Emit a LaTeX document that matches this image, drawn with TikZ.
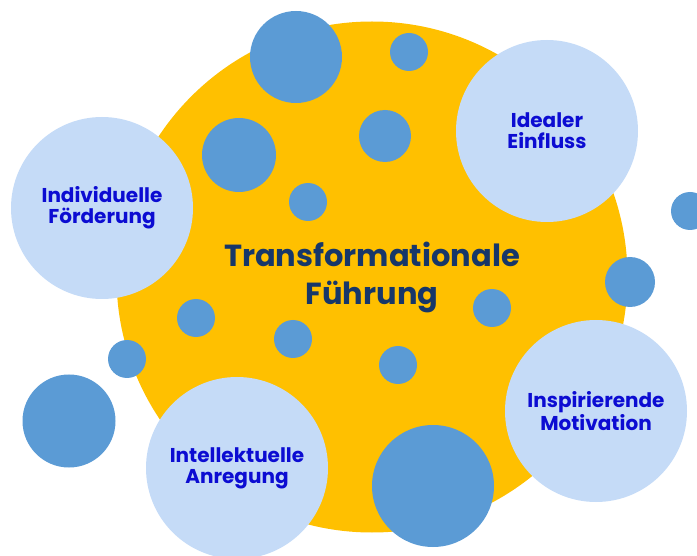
\documentclass[tikz,border=0pt]{standalone}
\usepackage{fontspec}
\setmainfont{Poppins}
\definecolor{gold}{HTML}{FFC000}
\definecolor{dotblue}{HTML}{5B9BD5}
\definecolor{paleblue}{RGB}{197,219,247}
\definecolor{labelblue}{RGB}{12,12,210}
\definecolor{navy}{RGB}{23,55,105}
\tikzset{
  core/.style={circle, fill=gold, inner sep=0pt, minimum size=511pt, text=navy,
    align=center, font=\fontsize{30.5}{38}\selectfont\bfseries},
  dot/.style={circle, fill=dotblue, inner sep=0pt, minimum size=#1},
  pillar/.style={circle, fill=paleblue, inner sep=0pt, minimum size=182pt, text=labelblue,
    align=center, font=\fontsize{20}{21}\selectfont\bfseries}
}
\begin{document}
\begin{tikzpicture}[x=1pt,y=-1pt]
\useasboundingbox (0,0) rectangle (697,556);
\node[core] (center) at (372,277) {Transformationale\\Führung};
% dark blue dots
\node[dot=92pt] (d1) at (296,57) {};
\node[dot=38pt] (d2) at (409,52) {};
\node[dot=74pt] (d3) at (239,155) {};
\node[dot=52pt] (d4) at (385,136) {};
\node[dot=38pt] (d5) at (308,202) {};
\node[dot=38pt] (d6) at (690,211) {};
\node[dot=50pt] (d7) at (630,282) {};
\node[dot=38pt] (d8) at (492,308) {};
\node[dot=38pt] (d9) at (398,365) {};
\node[dot=122pt] (d10) at (433,486) {};
\node[dot=38pt] (d11) at (196,318) {};
\node[dot=38pt] (d12) at (293,339) {};
\node[dot=38pt] (d13) at (127,359) {};
\node[dot=93pt] (d14) at (69,421) {};
% pale pillars
\node[pillar] (indiv) at (102,208) {Individuelle\\Förderung};
\node[pillar] (ideal) at (547,131) {Idealer\\Einfluss};
\node[pillar] (inspir) at (596,411) {Inspirierende\\Motivation};
\node[pillar] (intell) at (237,468) {Intellektuelle\\Anregung};
\end{tikzpicture}
\end{document}
